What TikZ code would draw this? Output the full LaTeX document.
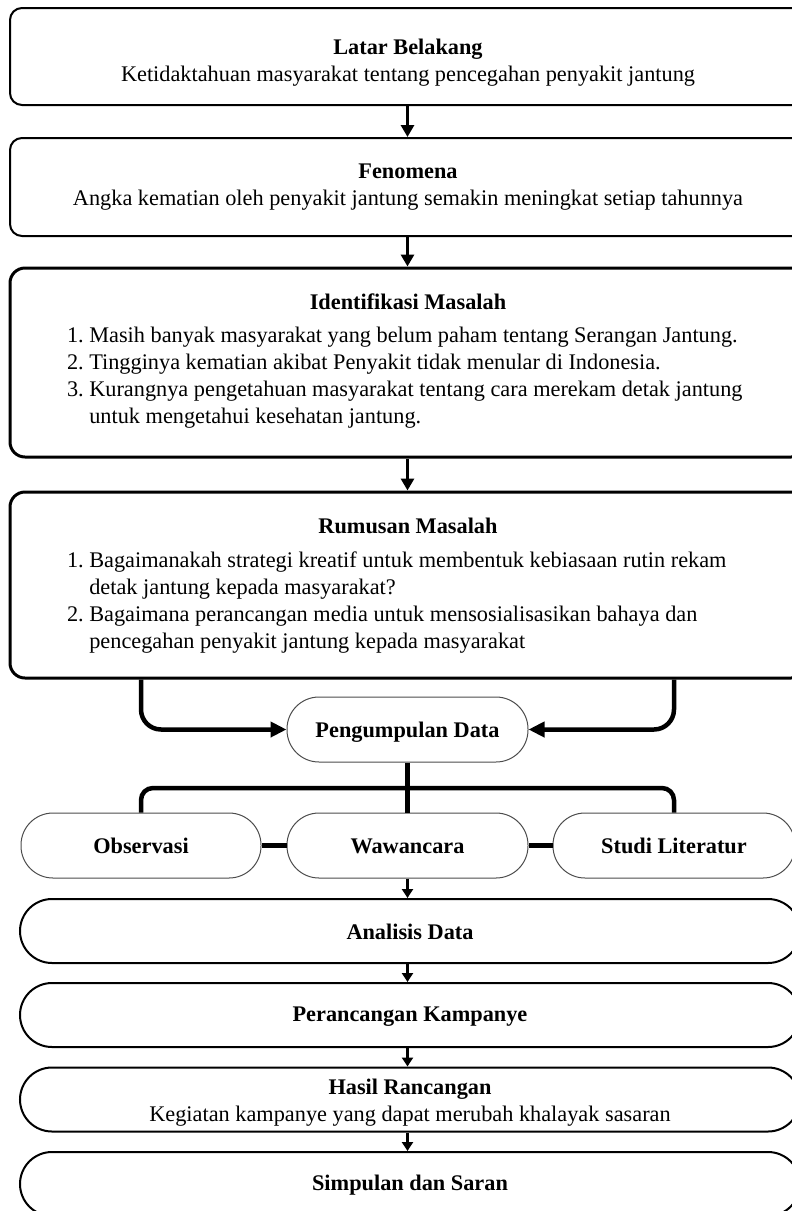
\documentclass[tikz,border=0pt]{standalone}
\usepackage{fontspec}
\setmainfont{Liberation Serif}
\usetikzlibrary{arrows.meta}

\begin{document}
\begin{tikzpicture}[x=1pt,y=1pt,font=\fontsize{22.3}{27}\selectfont]
  \tikzstyle{box}=[draw,rectangle,rounded corners=12pt,line width=2pt,
    minimum width=796pt,align=center,inner sep=0pt]
  \tikzstyle{bigbox}=[box,line width=3pt,rounded corners=15pt]
  \tikzstyle{pill}=[draw=black!70,rectangle,rounded corners=32pt,line width=1pt,
    minimum height=65pt,text height=18pt,text depth=3pt,
    font=\fontsize{22.3}{27}\selectfont\bfseries]
  \tikzstyle{stage}=[draw,rectangle,rounded corners=32pt,line width=2pt,
    minimum width=780pt,minimum height=64pt,align=center,inner sep=0pt]
  \tikzstyle{conn}=[line width=4.5pt]
  \tikzstyle{arrowline}=[line width=3.5pt,-{Triangle[length=12pt,width=13pt]}]
  \tikzstyle{smallarrow}=[line width=3pt,-{Triangle[length=9pt,width=11pt]}]

  \useasboundingbox (0,0) rectangle (792,-1211);

  \node [box,minimum height=97pt] (latar) at (408,-56.5) {
    \rule{0pt}{27pt}\textbf{Latar Belakang}\\
    Ketidaktahuan masyarakat tentang pencegahan penyakit jantung
  };
  \node [box,minimum height=98pt] (fenomena) at (408,-187) {
    \textbf{Fenomena}\\
    Angka kematian oleh penyakit jantung semakin meningkat setiap tahunnya
  };
  \node [bigbox,minimum height=189pt] (identifikasi) at (408,-362.5) {
    \textbf{Identifikasi Masalah}\\[6pt]
    \makebox[682pt][l]{\begin{tabular}[t]{@{}r@{\ }l@{}}
      1. & Masih banyak masyarakat yang belum paham tentang Serangan Jantung.\\
      2. & Tingginya kematian akibat Penyakit tidak menular di Indonesia.\\
      3. & Kurangnya pengetahuan masyarakat tentang cara merekam detak jantung\\
         & untuk mengetahui kesehatan jantung.
    \end{tabular}}
  };
  \node [bigbox,minimum height=186pt] (rumusan) at (408,-585) {
    \rule{0pt}{21pt}\textbf{Rumusan Masalah}\\[7pt]
    \makebox[682pt][l]{\begin{tabular}[t]{@{}r@{\ }l@{}}
      1. & Bagaimanakah strategi kreatif untuk membentuk kebiasaan rutin rekam\\
         & detak jantung kepada masyarakat?\\
      2. & Bagaimana perancangan media untuk mensosialisasikan bahaya dan\\
         & pencegahan penyakit jantung kepada masyarakat
    \end{tabular}}
  };

  \node [pill,minimum width=241pt] (pengumpulan) at (407.5,-729.5) {Pengumpulan Data};
  \node [pill,minimum width=240pt] (observasi) at (141,-845.5) {Observasi};
  \node [pill,minimum width=241pt] (wawancara) at (407.5,-845.5) {Wawancara};
  \node [pill,minimum width=242pt] (studi) at (674,-845.5) {Studi Literatur};

  \node [stage] (analisis) at (410,-931) {\rule{0pt}{17pt}\textbf{Analisis Data}};
  \node [stage] (perancangan) at (410,-1015) {\rule{0pt}{17pt}\textbf{Perancangan Kampanye}};
  \node [stage] (hasil) at (410,-1099.5) {
    \rule{0pt}{22pt}\textbf{Hasil Rancangan}\\
    Kegiatan kampanye yang dapat merubah khalayak sasaran
  };
  \node [stage] (simpulan) at (410,-1184) {\rule{0pt}{17pt}\textbf{Simpulan dan Saran}};

  \draw [arrowline] (latar.south -| pengumpulan) -- (fenomena.north -| pengumpulan);
  \draw [arrowline] (fenomena.south -| pengumpulan) -- (identifikasi.north -| pengumpulan);
  \draw [arrowline] (identifikasi.south -| pengumpulan) -- (rumusan.north -| pengumpulan);

  \draw [conn,rounded corners=20pt,-{Triangle[length=16pt,width=15pt]}]
    (rumusan.south -| observasi) |- (pengumpulan.west);
  \draw [conn,rounded corners=20pt,-{Triangle[length=16pt,width=15pt]}]
    (rumusan.south -| studi) |- (pengumpulan.east);

  \coordinate (cabang) at (407.5,-788);
  \draw [conn] (pengumpulan.south) -- (wawancara.north);
  \draw [conn,rounded corners=12pt] (observasi.north) |- (cabang) -| (studi.north);
  \draw [conn] (observasi.east) -- (wawancara.west);
  \draw [conn] (wawancara.east) -- (studi.west);

  \draw [smallarrow] (wawancara.south) -- (analisis.north -| wawancara);
  \draw [smallarrow] (analisis.south -| wawancara) -- (perancangan.north -| wawancara);
  \draw [smallarrow] (perancangan.south -| wawancara) -- (hasil.north -| wawancara);
  \draw [smallarrow] (hasil.south -| wawancara) -- (simpulan.north -| wawancara);
\end{tikzpicture}
\end{document}
